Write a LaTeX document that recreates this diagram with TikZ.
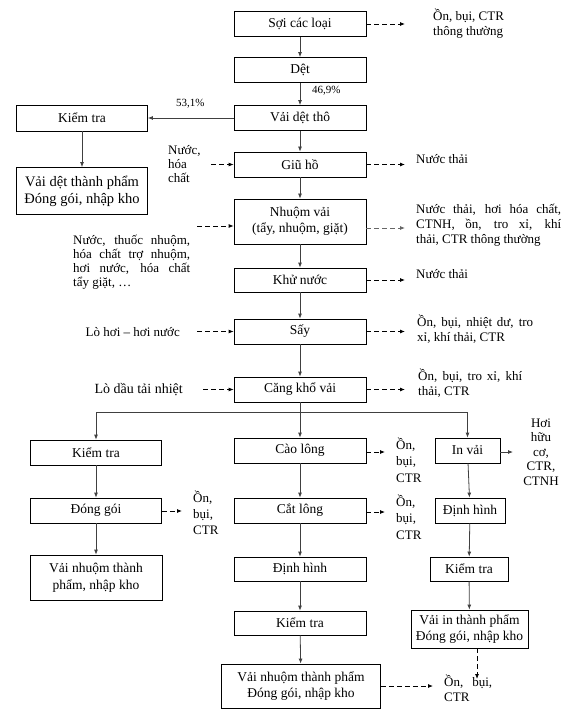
\documentclass[tikz,border=0pt]{standalone}
\usepackage{fontspec}
\setmainfont{Liberation Serif}
\usetikzlibrary{arrows.meta}
\newcommand{\jl}[2]{\makebox[#1][s]{#2}}
\begin{document}
\begin{tikzpicture}[x=1pt,y=-1pt,
  box/.style={draw, line width=0.8pt, inner sep=0pt, align=center, minimum width=132pt, minimum height=25pt, font=\fontsize{13.5}{16.5}\selectfont},
  ann/.style={inner sep=0pt, align=left, font=\fontsize{13}{15}\selectfont},
  pct/.style={inner sep=0pt, font=\fontsize{11}{13}\selectfont},
  conn/.style={draw=black!75, line width=0.8pt, -{Latex[length=5pt,width=4pt]}},
  plain/.style={draw=black!75, line width=0.8pt},
  dconn/.style={draw=black, line width=0.8pt, dash pattern=on 5pt off 3pt, -{Latex[length=5pt,width=4pt]}},
]
\useasboundingbox (0,0) rectangle (567,711);
% main column
\node[box] (soi) at (300,24) {Sợi các loại};
\node[box] (det) at (300,70) {Dệt};
\node[box] (vaitho) at (300,118) {Vải dệt thô};
\node[box, minimum width=131pt, minimum height=26pt] (kt1) at (82,118) {Kiểm tra};
\node[box, minimum width=131pt, minimum height=47pt, font=\fontsize{14.5}{17}\selectfont] (vdtp) at (82,191) {Vải dệt thành phẩm\\Đóng gói, nhập kho};
\node[box] (giuho) at (300,164.5) {Giũ hồ};
\node[box, minimum height=45pt] (nhuom) at (300,221.5) {Nhuộm vải\\(tẩy, nhuộm, giặt)};
\node[box, minimum height=24pt] (khu) at (300,280) {Khử nước};
\node[box] (say) at (300,331.5) {Sấy};
\node[box] (cang) at (300,389.5) {Căng khổ vải};
% left column
\node[box, minimum width=131pt] (kt2) at (96,452.5) {Kiểm tra};
\node[box, minimum width=131pt] (dong) at (96,510.5) {Đóng gói};
\node[box, minimum width=132pt, minimum height=45pt] (vntp) at (96,577.5) {Vải nhuộm thành\\phẩm, nhập kho};
% middle column
\node[box] (cao) at (300,450.5) {Cào lông};
\node[box] (cat) at (300,510.5) {Cắt lông};
\node[box, minimum height=24pt] (dh1) at (300,569) {Định hình};
\node[box, minimum height=24pt] (kt3) at (300,623) {Kiểm tra};
\node[box, minimum width=159pt, minimum height=44pt] (vntp2) at (301,686) {Vải nhuộm thành phẩm\\Đóng gói, nhập kho};
% right column
\node[box, minimum width=65pt] (invai) at (467.5,450.5) {In vải};
\node[box, minimum width=70pt] (dh2) at (470,510.5) {Định hình};
\node[box, minimum width=78pt, minimum height=24pt] (kt4) at (469,569) {Kiểm tra};
\node[box, minimum width=117pt, minimum height=38pt] (vaiin) at (469.5,629) {Vải in thành phẩm\\Đóng gói, nhập kho};

% percentages
\node[pct, anchor=west] (p1) at (312,91) {46,9\%};
\node[pct, anchor=west] (p2) at (176,104) {53,1\%};

% annotations right of main column
\node[ann, anchor=west] (asoi) at (433,24) {Ồn, bụi, CTR\\thông thường};
\node[ann, anchor=west] (agiu) at (416,159) {Nước thải};
\node[ann, anchor=west] (anhuom) at (416,225) {\jl{145pt}{Nước thải, hơi hóa chất,}\\\jl{145pt}{CTNH, ồn, tro xỉ, khí}\\thải, CTR thông thường};
\node[ann, anchor=west] (akhu) at (416,274) {Nước thải};
\node[ann, anchor=west] (asay) at (417,329.5) {\jl{116pt}{Ồn, bụi, nhiệt dư, tro}\\xỉ, khí thải, CTR};
\node[ann, anchor=west] (acang) at (418,383) {\jl{104pt}{Ồn, bụi, tro xỉ, khí}\\thải, CTR};
% inputs left of main column
\node[ann, anchor=west, font=\fontsize{13}{14}\selectfont] (igiu) at (168,164) {Nước,\\hóa\\chất};
\node[ann, anchor=west, font=\fontsize{13}{14}\selectfont] (inhuom) at (73,262) {\jl{117pt}{Nước, thuốc nhuộm,}\\\jl{117pt}{hóa chất trợ nhuộm,}\\\jl{117pt}{hơi nước, hóa chất}\\tẩy giặt, …};
\node[ann, anchor=east] (isay) at (180,332) {Lò hơi – hơi nước};
\node[ann, anchor=east, font=\fontsize{14}{16}\selectfont] (icang) at (183,389.5) {Lò dầu tải nhiệt};
% lower annotations
\node[ann, anchor=west, font=\fontsize{13}{16.5}\selectfont] (acao) at (396,460) {Ồn,\\bụi,\\CTR};
\node[ann, anchor=west, font=\fontsize{13}{16.5}\selectfont] (acat) at (396,517) {Ồn,\\bụi,\\CTR};
\node[ann, anchor=west, font=\fontsize{13}{16}\selectfont] (adong) at (193,513) {Ồn,\\bụi,\\CTR};
\node[ann, align=center, font=\fontsize{13}{14.5}\selectfont] (ainvai) at (541,452) {Hơi\\hữu\\cơ,\\CTR,\\CTNH};
\node[ann, anchor=west] (abot) at (444,688.5) {\jl{48pt}{Ồn, bụi,}\\CTR};

% coordinates for free ends
\coordinate (soiE) at (405,24);
\coordinate (giuE) at (405,164.5);
\coordinate (nhuomE) at (405,228);
\coordinate (khuE) at (405,280);
\coordinate (sayE) at (405,331.5);
\coordinate (cangE) at (405,389.5);
\coordinate (giuW) at (211,164.5);
\coordinate (nhuomW) at (197,226);
\coordinate (sayW) at (197,331.5);
\coordinate (cangW) at (203,389.5);
\coordinate (caoE) at (385,452);
\coordinate (catE) at (385,512);
\coordinate (dongE) at (182,511);
\coordinate (invaiE) at (513,452);
\coordinate (vntpE) at (433,686);
\coordinate (vaiinS) at (477,679);
\coordinate (br) at (300,412);

% main flow
\draw[conn] (soi) -- (det);
\draw[conn] (det) -- (vaitho);
\draw[conn] (vaitho) -- (kt1);
\draw[conn] (kt1) -- (vdtp);
\draw[conn] (vaitho) -- (giuho);
\draw[conn] (giuho) -- (nhuom);
\draw[conn] (nhuom) -- (khu);
\draw[conn] (khu) -- (say);
\draw[conn] (say) -- (cang);
\draw[conn] (cang) -- (cao);
\draw[conn] (br) -| (kt2);
\draw[conn] (br) -| (invai);
\draw[conn] (kt2) -- (dong);
\draw[conn] (dong) -- (vntp);
\draw[conn] (cao) -- (cat);
\draw[conn] (cat) -- (dh1);
\draw[conn] (dh1) -- (kt3);
\draw[conn] (kt3) -- (vntp2);
\draw[conn] (invai) -- (dh2);
\draw[conn] (dh2) -- (kt4);
\draw[conn] (kt4) -- (vaiin);
\draw[conn] (invai.east |- invaiE) -- (invaiE);

% dashed outputs
\draw[dconn] (soi) -- (soiE);
\draw[dconn] (giuho) -- (giuE);
\draw[dconn, draw=black!60] (nhuom.east |- nhuomE) -- (nhuomE);
\draw[dconn] (khu) -- (khuE);
\draw[dconn] (say) -- (sayE);
\draw[dconn] (cang) -- (cangE);
\draw[dconn] (giuW) -- (giuho);
\draw[dconn] (nhuomW) -- (nhuom.west |- nhuomW);
\draw[dconn] (sayW) -- (say);
\draw[dconn] (cangW) -- (cang);
\draw[dconn] (cao.east |- caoE) -- (caoE);
\draw[dconn] (cat.east |- catE) -- (catE);
\draw[dconn] (dong.east |- dongE) -- (dongE);
\draw[dconn] (vntp2) -- (vntpE);
\draw[dconn] (vaiin.south -| vaiinS) -- (vaiinS);
\end{tikzpicture}
\end{document}
